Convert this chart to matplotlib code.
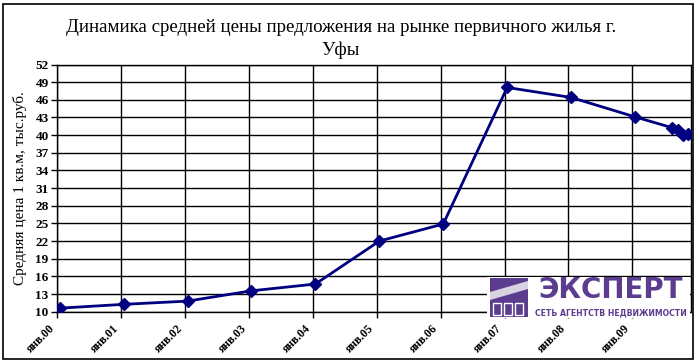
import numpy as np
import matplotlib.pyplot as plt
from matplotlib.patches import Rectangle, Polygon

# monthly observations (year, month) and average price, thousand rub per sq.m
dates = [(2000, 1), (2001, 1), (2002, 1), (2003, 1), (2004, 1), (2005, 1), (2006, 1),
         (2007, 1), (2008, 1), (2009, 1), (2009, 8), (2009, 9), (2009, 10), (2009, 11)]
prices = [10.6, 11.25, 11.8, 13.55, 14.7, 22.0, 24.9, 48.1, 46.4, 43.1, 41.25, 40.85, 40.1, 40.2]

tick_labels = ["янв.00", "янв.01", "янв.02", "янв.03", "янв.04",
               "янв.05", "янв.06", "янв.07", "янв.08", "янв.09"]

title = "Динамика средней цены предложения на рынке первичного жилья г.\nУфы"
ylabel = "Средняя цена 1 кв.м, тыс.руб."

serif = ["Liberation Serif", "DejaVu Serif"]
purple = "#5b3c8f"

# months since jan 2000, points sit in the middle of their month
x = np.array([(y - 2000) * 12 + (m - 1) + 0.5 for y, m in dates])

fig = plt.figure(figsize=(6.96, 3.63), dpi=100)
ax = fig.add_axes([57 / 696, 1 - 311.7 / 363, (691 - 57) / 696, (311.7 - 64.5) / 363])

ax.plot(x, prices, color="#000080", linewidth=2, marker="D", markersize=6, zorder=3)

ax.set_xlim(0, 119)
ax.set_ylim(10, 52)
ax.set_xticks(np.arange(0, 120, 12))
ax.set_xticklabels(tick_labels, rotation=45, ha="right", va="top",
                   family=serif, fontsize=8.5, fontweight="bold")
ax.set_yticks(np.arange(10, 53, 3))
ax.set_yticklabels([str(v) for v in range(10, 53, 3)], family=serif,
                   fontsize=9.5, fontweight="bold")
ax.tick_params(axis="both", direction="out", length=4, width=1, color="black", pad=2)
ax.tick_params(axis="x", pad=4)
ax.grid(True, color="black", linewidth=1)
for s in ax.spines.values():
    s.set_color("black")
    s.set_linewidth(1)

ax.set_ylabel(ylabel, family=serif, fontsize=11, labelpad=6)
fig.text(0.49, 1 - 39 / 363, title, ha="center", va="center", family=serif,
         fontsize=13.6, linespacing=1.45)

# outer frame of the chart
fig.patches.append(Rectangle((3 / 696, 4 / 363), 690 / 696, 355 / 363, transform=fig.transFigure,
                             fill=False, edgecolor="black", linewidth=1.2))


# logo of the agency, bottom right
def fx(px):
    return px / 696


def fy(py):
    return 1 - py / 363


fig.patches.append(Rectangle((fx(487), fy(318)), fx(690) - fx(487), fy(277) - fy(318),
                             transform=fig.transFigure, facecolor="white", edgecolor="none", zorder=5))
fig.patches.append(Rectangle((fx(490), fy(317)), fx(528) - fx(490), fy(278) - fy(317),
                             transform=fig.transFigure, facecolor=purple, edgecolor="none", zorder=6))
fig.patches.append(Polygon([(fx(490), fy(292)), (fx(528), fy(281)), (fx(528), fy(289)), (fx(490), fy(300))],
                           closed=True, transform=fig.transFigure, facecolor="#d8d4e0", edgecolor="none", zorder=7))
for cx in [497, 508, 519]:
    fig.patches.append(Rectangle((fx(cx - 4), fy(315)), fx(8) - fx(0), fy(303) - fy(315),
                                 transform=fig.transFigure, facecolor=purple, edgecolor="white",
                                 linewidth=1, zorder=7))
fig.text(fx(611), fy(290), "ЭКСПЕРТ", ha="center", va="center", color=purple,
         fontsize=20, fontweight="heavy", family=["DejaVu Sans"], zorder=8)
fig.text(fx(611), fy(313), "СЕТЬ АГЕНТСТВ НЕДВИЖИМОСТИ", ha="center", va="center",
         color=purple, fontsize=5.6, fontweight="bold", family=["DejaVu Sans"], zorder=8)

fig.savefig("out.png", dpi=100)
